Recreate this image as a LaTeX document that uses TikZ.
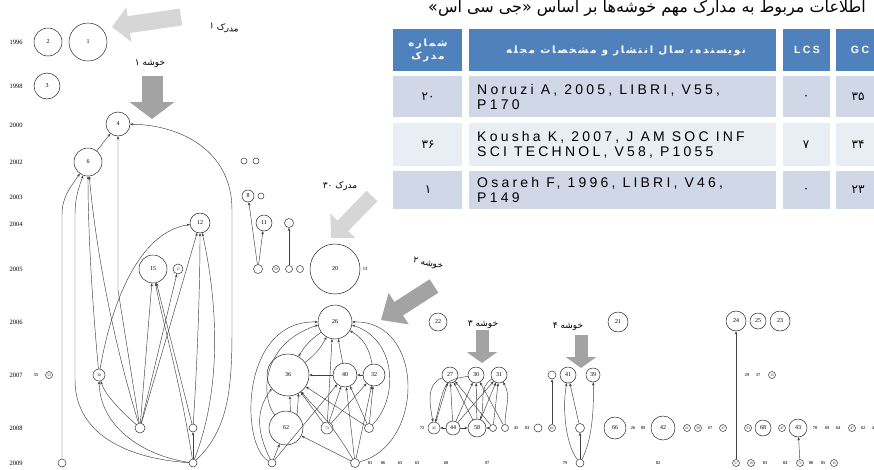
\documentclass[tikz,border=0pt]{standalone}
\usepackage{fontspec}
\setmainfont{Liberation Serif}
\newfontfamily\fa[Script=Arabic]{DejaVu Sans}
\newfontfamily\fasp[Script=Arabic,LetterSpace=18]{DejaVu Sans}
\newfontfamily\tabsans[LetterSpace=23]{Liberation Sans}
\TeXXeTstate=1
\usetikzlibrary{arrows.meta,calc}
\definecolor{hdr}{HTML}{4F81BD}
\definecolor{rowA}{HTML}{D0D8E8}
\definecolor{rowB}{HTML}{E9EDF4}
\definecolor{lgray}{HTML}{D6D6D6}
\definecolor{dgray}{HTML}{A3A3A3}
\tikzset{
  nd/.style={circle,draw=black!85,line width=0.5pt,inner sep=0pt,font=\fontsize{6}{6}\selectfont},
  tn/.style={circle,draw=black!80,line width=0.5pt,inner sep=0pt,minimum size=7pt,font=\fontsize{3.5}{4}\selectfont},
  tt/.style={inner sep=0pt,font=\fontsize{4.5}{5}\selectfont\bfseries,text=black!75},
  yl/.style={font=\fontsize{6.5}{7}\selectfont,anchor=center},
  ed/.style={draw=black!75,line width=0.45pt,-{Stealth[length=3.2pt,width=2.6pt]}},
  lab/.style={font=\fa\fontsize{9}{10}\selectfont},
  bigl/.style={line width=17pt,lgray,-{Triangle[length=17pt,width=34pt]}},
  bigd/.style={dgray,-{Triangle[length=17pt,width=44pt]}},
  hd/.style={font=\fasp\bfseries\fontsize{10}{13}\selectfont,text=white,align=center},
  hdl/.style={font=\tabsans\bfseries\fontsize{10.5}{12}\selectfont,text=white},
  cell/.style={font=\tabsans\fontsize{14}{15.5}\selectfont,align=left,anchor=west,inner sep=0pt},
  num/.style={font=\fa\fontsize{12}{13}\selectfont}
}
\begin{document}
\begin{tikzpicture}[x=1pt,y=-1pt]
\useasboundingbox (0,0) rectangle (874,469);
\clip (0,0) rectangle (874,469);
\fill[white] (0,0) rectangle (874,469);

% ---------- year labels
\foreach \yr/\yy in {1996/42,1998/86,2000/125,2002/162,2003/197,2004/224,2005/269,2006/322,2007/375,2008/428,2009/463}
  \node[yl] (y\yr) at (16,\yy) {\yr};

% ---------- left cluster
\node[nd,minimum size=28pt] (n2) at (48,42) {2};
\node[nd,minimum size=38pt] (n1) at (88,42) {1};
\node[nd,minimum size=26pt] (n3) at (47,86) {3};
\node[nd,minimum size=24pt] (n4) at (118,124) {4};
\node[nd,minimum size=28pt] (n6) at (88,162) {6};
\node[nd,minimum size=20pt] (n12) at (200,223) {12};
\node[nd,minimum size=28pt] (n15) at (153,269) {15};
\node[tn,minimum size=10pt] (n17) at (178,269) {17};
\node[tn,minimum size=12pt] (n38) at (99,375) {38};
\node[tn,minimum size=10pt] (nc) at (140,428) {};
\node[tn,minimum size=8pt] (nd) at (193,428) {};
\node[tn,minimum size=8pt] (na) at (62,463) {};
\node[tn,minimum size=8pt] (nb) at (193,463) {};
\node[tt] (t55) at (36,375) {55};
\node[tn] (t53) at (49,375) {53};

\draw[ed] (n6) -- (n4);
\draw[ed] (na) -- (62,215) to[out=90,in=235] (n6);
\draw[ed] (nb) .. controls (120,458) and (75,430) .. (75,380) -- (75,215) to[out=90,in=250] (n6);
\draw[ed] (n38) .. controls (92,300) and (88,230) .. (n6);
\draw[ed] (nc) .. controls (110,330) and (95,240) .. (n6);
\draw[ed] (nc) -- (118,290) -- (n4);
\draw[ed] (nc) -- (n15);
\draw[ed] (nd) -- (n15);
\draw[ed] (nb) .. controls (180,380) and (162,320) .. (n15);
\draw[ed] (nc) -- (n17);
\draw[ed] (nc) .. controls (120,410) and (105,395) .. (n38);
\draw[ed] (nb) .. controls (140,455) and (100,425) .. (n38);
\draw[ed] (n38) .. controls (112,300) and (140,232) .. (n12);
\draw[ed] (nc) -- (n12);
\draw[ed] (nd) .. controls (198,350) and (200,280) .. (n12);
\draw[ed] (nb) .. controls (225,380) and (215,290) .. (n12);
\draw[ed] (nb) .. controls (228,430) and (232,390) .. (232,330) -- (232,210) .. controls (232,150) and (180,125) .. (n4);
\draw[ed] (nb) -- (nd);

% ---------- middle top
\node[tn,minimum size=6pt] (m1) at (244,161) {};
\node[tn,minimum size=6pt] (m2) at (256,161) {};
\node[nd,minimum size=12pt] (n8) at (248,196) {8};
\node[tn,minimum size=6pt] (m3) at (261,196) {};
\node[nd,minimum size=16pt] (n11) at (264,223) {11};
\node[tn,minimum size=9pt] (m4) at (289,223) {};
\node[tn,minimum size=9pt] (m5) at (258,269) {};
\node[tn] (m6) at (276,269) {59};
\node[tn] (m7) at (289,269) {};
\node[tn] (m8) at (300,269) {};
\node[nd,minimum size=50pt] (n20) at (335,269) {20};
\node[tt] (m9) at (365,269) {13};
\draw[ed] (m5) -- (n8);
\draw[ed] (m5) -- (n11);
\draw[ed] (m7) -- (m4);

% ---------- middle cluster
\node[nd,minimum size=34pt] (n26) at (335,322) {26};
\node[nd,minimum size=42pt] (n36) at (288,375) {36};
\node[nd,minimum size=24pt] (n40) at (345,375) {40};
\node[nd,minimum size=22pt] (n32) at (374,375) {32};
\node[nd,minimum size=34pt] (n62) at (286,428) {62};
\node[tn,minimum size=12pt] (n73) at (327,428) {73};
\node[tn,minimum size=9pt] (ne) at (369,428) {};
\node[tn,minimum size=8pt] (nf) at (272,463) {};
\node[tn,minimum size=9pt] (ng) at (355,463) {};

\draw[ed] (n26) to[bend right=12] (n36);
\draw[ed] (n36) to[bend right=12] (n26);
\draw[ed] (n40) -- (n26);
\draw[ed] (n73) -- (n26.-100);
\draw[ed] (n32) to[out=100,in=-30] (n26);
\draw[ed] (ne) .. controls (398,400) and (398,340) .. (n26.-10);
\draw[ed] (ng) .. controls (425,445) and (425,320) .. (n26.east);
\draw[ed] (nf) .. controls (240,445) and (240,320) .. (n26.west);
\draw[ed] (n62) .. controls (262,400) and (258,345) .. (n26.190);
\draw[ed] (n40) -- (n36);
\draw[ed] (n32) -- (n40);
\draw[ed] (n62.75) -- (n36.-85);
\draw[ed] (n62.50) -- (n36.-60);
\draw[ed] (nf) -- (n62);
\draw[ed] (ng) -- (n62);
\draw[ed] (nf) .. controls (256,430) and (256,410) .. (n36.-140);
\draw[ed] (nf) -- (n40);
\draw[ed] (n73) -- (n36);
\draw[ed] (n73) -- (n40);
\draw[ed] (n73) -- (n32);
\draw[ed] (ne) -- (n40);
\draw[ed] (ne) -- (n32);
\draw[ed] (ne) -- (n36);
\draw[ed] (ng) -- (n40);
\draw[ed] (ng) -- (n32);
\draw[ed] (ng) .. controls (330,420) and (312,405) .. (n36);

% ---------- 2009 row small
\foreach \xx/\tx in {370/81,383/86,400/65,417/63,446/60,487/97,565/79,658/82,765/83,785/84,811/80,823/85}
  \node[tt] at (\xx,463) {\tx};
\node[tn] (nn) at (736,463) {57};
\node[tn] (q751) at (751,463) {19};
\node[tn] (no) at (800,463) {71};
\node[tn] (q834) at (834,463) {15};
\node[tn,minimum size=8pt] (nm) at (580,463) {};

% ---------- 2008 row
\node[tt] at (422,428) {72};
\node[tn,minimum size=12pt] (n45) at (434,428) {45};
\node[nd,minimum size=14pt] (n44) at (453,428) {44};
\node[nd,minimum size=18pt] (n58) at (477,428) {58};
\node[tn] (nh) at (493,428) {};
\node[tn] (ni) at (505,428) {};
\node[tt] at (516,428) {45};
\node[tt] at (527,428) {83};
\node[tn,minimum size=8pt] (q538) at (538,428) {};
\node[tn] (nj) at (552,428) {61};
\node[tn,minimum size=9pt] (nl) at (580,428) {};
\node[nd,minimum size=22pt] (n66) at (615,428) {66};
\node[tt] at (633,428) {26};
\node[tt] at (643,428) {89};
\node[nd,minimum size=24pt] (n42) at (663,428) {42};
\node[tn] (q687) at (687,428) {51};
\node[tn] (q698) at (698,428) {50};
\node[tt] at (710,428) {67};
\node[tn] (q723) at (723,428) {37};
\node[tn] (q748) at (748,428) {53};
\node[nd,minimum size=16pt] (n68) at (763,428) {68};
\node[tn] (q782) at (782,428) {47};
\node[nd,minimum size=18pt] (n43) at (798,428) {43};
\node[tt] at (815,428) {70};
\node[tt] at (827,428) {69};
\node[tt] at (838,428) {64};
\node[tn] (q852) at (852,428) {47};
\node[tt] at (863,428) {62};
\node[tt] at (873,428) {4};

% ---------- 2007 row right
\node[nd,minimum size=16pt] (n27) at (450,375) {27};
\node[nd,minimum size=16pt] (n30) at (476,375) {30};
\node[nd,minimum size=16pt] (n31) at (499,375) {31};
\node[tn,minimum size=8pt] (nk) at (552,375) {};
\node[nd,minimum size=16pt] (n41) at (568,375) {41};
\node[nd,minimum size=14pt] (n39) at (593,375) {39};
\node[tt] at (747,375) {29};
\node[tt] at (758,375) {37};
\node[tn] (q772) at (772,375) {15};

% ---------- 2006 row right
\node[nd,minimum size=18pt] (n22) at (438,322) {22};
\node[nd,minimum size=20pt] (n21) at (618,322) {21};
\node[nd,minimum size=20pt] (n24) at (736,321) {24};
\node[nd,minimum size=16pt] (n25) at (758,321) {25};
\node[nd,minimum size=20pt] (n23) at (780,321) {23};

% cluster 3 edges
\draw[ed] (n45) -- (n27);
\draw[ed] (n27) to[out=200,in=100] (n45);
\draw[ed] (n44) -- (n27);
\draw[ed] (n58) -- (n27);
\draw[ed] (nh) -- (n27);
\draw[ed] (n44) -- (n30);
\draw[ed] (n58) -- (n30);
\draw[ed] (ni) -- (n30);
\draw[ed] (n58) -- (n31);
\draw[ed] (n44) -- (n31);
\draw[ed] (nh) -- (n31);
\draw[ed] (ni) to[out=90,in=-60] (n31);
\draw[ed] (n30) .. controls (445,380) .. (n45);
\draw[ed] (n31) to[out=-150,in=70] (n58);
\draw[ed] (n44) -- (n45);
\draw[ed] (n44) -- (n58);
\draw[ed] (nh) -- (n58);
% right edges
\draw[ed] (nj) -- (nk);
\draw[ed] (nm) .. controls (566,445) and (562,410) .. (n41);
\draw[ed] (nl) -- (n41);
\draw[ed] (nm) .. controls (592,440) and (594,410) .. (n39);
\draw[ed] (nm) -- (nl);
\draw[ed] (nn) -- (n24);
\draw[ed] (no) -- (n43);

% ---------- big annotation arrows
\coordinate (a1s) at (181,17); \coordinate (a1t) at (112,27);
\draw[bigl] (a1s) -- (a1t);
\coordinate (a2s) at (152,76); \coordinate (a2t) at (152,119);
\draw[bigd,line width=21pt] (a2s) -- (a2t);
\coordinate (a3s) at (372,196); \coordinate (a3t) at (331,238);
\draw[bigl,line width=15pt] (a3s) -- (a3t);
\coordinate (a4s) at (434,286); \coordinate (a4t) at (381,320);
\draw[dgray,line width=16pt,-{Triangle[length=21pt,width=36pt]}] (a4s) -- (a4t);
\coordinate (a5s) at (482,330); \coordinate (a5t) at (482,363);
\draw[dgray,line width=13pt,-{Triangle[length=11pt,width=30pt]}] (a5s) -- (a5t);
\coordinate (a6s) at (581,335); \coordinate (a6t) at (581,368);
\draw[dgray,line width=13pt,-{Triangle[length=11pt,width=30pt]}] (a6s) -- (a6t);

\node[lab,rotate=-8] (L1) at (224,28) {\beginR مدرک ۱\endR};
\node[lab] (L2) at (150,64) {\beginR خوشه ۱\endR};
\node[lab] (L3) at (340,186) {\beginR مدرک ۳۰\endR};
\node[lab,rotate=-12] (L4) at (428,264) {\beginR خوشه ۲\endR};
\node[lab] (L5) at (483,325) {\beginR خوشه ۳\endR};
\node[lab] (L6) at (568,327) {\beginR خوشه ۴\endR};

% ---------- table
\node[font=\fa\fontsize{16}{17}\selectfont,anchor=base east,inner sep=0pt] (title) at (866,12)
  {\beginR اطلاعات مربوط به مدارک مهم خوشه‌ها بر اساس «جی سی اس»\endR};
\fill[hdr] (393,29) rectangle (462,71);
\fill[hdr] (469,29) rectangle (776,71);
\fill[hdr] (783,29) rectangle (830,71);
\fill[hdr] (836,29) rectangle (890,71);
\foreach \ya/\yb/\cc in {76/117/rowA,123/166/rowB,171/209/rowA}{
  \fill[\cc] (393,\ya) rectangle (462,\yb);
  \fill[\cc] (469,\ya) rectangle (776,\yb);
  \fill[\cc] (783,\ya) rectangle (830,\yb);
  \fill[\cc] (836,\ya) rectangle (890,\yb);
}
\node[hd] (h1) at (428,50) {\beginR شماره\endR\\\beginR مدرک\endR};
\node[hd] (h2) at (626,51) {\beginR نویسنده، سال انتشار و مشخصات مجله\endR};
\node[hdl] (h3) at (807,50) {LCS};
\node[hdl] (h4) at (860,50) {GC};

\node[cell] (c1) at (477,97) {Noruzi A, 2005, LIBRI, V55,\\P170};
\node[cell] (c2) at (477,145) {Kousha K, 2007, J AM SOC INF\\SCI TECHNOL, V58, P1055};
\node[cell] (c3) at (477,190) {Osareh F, 1996, LIBRI, V46,\\P149};
\node[num] at (428,97) {۲۰};
\node[num] at (806,97) {۰};
\node[num] at (858,97) {۳۵};
\node[num] at (428,145) {۳۶};
\node[num] at (806,145) {۷};
\node[num] at (858,145) {۳۴};
\node[num] at (428,190) {۱};
\node[num] at (806,190) {۰};
\node[num] at (858,190) {۲۳};
\end{tikzpicture}
\end{document}
